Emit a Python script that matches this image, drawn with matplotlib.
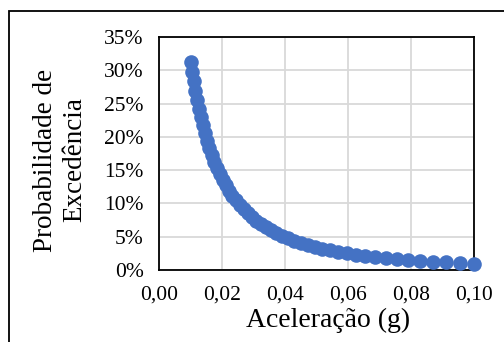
import matplotlib
matplotlib.use("Agg")
import matplotlib.pyplot as plt
from matplotlib.patches import Rectangle
from matplotlib.ticker import FuncFormatter, MultipleLocator

# aceleração (g), 50 pontos
acel = [0.01000, 0.01048, 0.01099, 0.01151, 0.01207, 0.01265, 0.01326, 0.01389,
        0.01456, 0.01526, 0.01600, 0.01677, 0.01758, 0.01842, 0.01931, 0.02024,
        0.02121, 0.02223, 0.02330, 0.02442, 0.02560, 0.02683, 0.02812, 0.02947,
        0.03089, 0.03237, 0.03393, 0.03556, 0.03728, 0.03907, 0.04095, 0.04292,
        0.04498, 0.04715, 0.04942, 0.05179, 0.05429, 0.05690, 0.05964, 0.06251,
        0.06551, 0.06866, 0.07197, 0.07543, 0.07906, 0.08286, 0.08685, 0.09103,
        0.09541, 0.10000]

# probabilidade de excedência (%)
prob = [31.31, 29.80, 28.34, 26.93, 25.56, 24.23, 22.96, 21.73, 20.55, 19.42,
        18.33, 17.28, 16.29, 15.33, 14.42, 13.55, 12.72, 11.93, 11.18, 10.46,
        9.79, 9.14, 8.54, 7.96, 7.42, 6.91, 6.43, 5.97, 5.54, 5.14,
        4.77, 4.41, 4.08, 3.77, 3.48, 3.21, 2.96, 2.73, 2.51, 2.31,
        2.12, 1.94, 1.78, 1.63, 1.49, 1.36, 1.25, 1.14, 1.04, 0.94]

prob = [p / 100 for p in prob]

plt.rcParams['font.family'] = ['Liberation Serif', 'DejaVu Serif']

W, H = 504, 342
fig = plt.figure(figsize=(W / 100, H / 100), dpi=100)

# moldura externa (cortada à direita e em baixo)
fig.patches.append(Rectangle((9 / W, -0.5), 2.0, 1.5 - 11 / H,
                             transform=fig.transFigure, fill=False,
                             edgecolor='black', linewidth=1.3))

ax = fig.add_axes([159 / W, 1 - 270 / H, (474 - 159) / W, (270 - 37) / H])

ax.plot(acel, prob, 'o', color='#4472C4', markersize=10.5,
        markeredgewidth=0, clip_on=False, zorder=3)

ax.set_xlim(0, 0.10)
ax.set_ylim(0, 0.35)
ax.xaxis.set_major_locator(MultipleLocator(0.02))
ax.yaxis.set_major_locator(MultipleLocator(0.05))
ax.xaxis.set_major_formatter(FuncFormatter(lambda v, p: f"{v:.2f}".replace('.', ',')))
ax.yaxis.set_major_formatter(FuncFormatter(lambda v, p: f"{v * 100:.0f}%"))
ax.tick_params(length=0, labelsize=15.5, pad=11)
ax.grid(True, color='#d9d9d9', linewidth=1.3)
ax.set_axisbelow(True)
for s in ax.spines.values():
    s.set_color('black')
    s.set_linewidth(1.3)

fig.text(328 / W, 1 - 320 / H, 'Aceleração (g)', ha='center', va='center',
         fontsize=20)
fig.text(60 / W, 1 - 160 / H, 'Probabilidade de\nExcedência', ha='center',
         va='center', rotation=90, fontsize=19.5, linespacing=1.25,
         multialignment='center')

fig.savefig('out.png', dpi=100)
